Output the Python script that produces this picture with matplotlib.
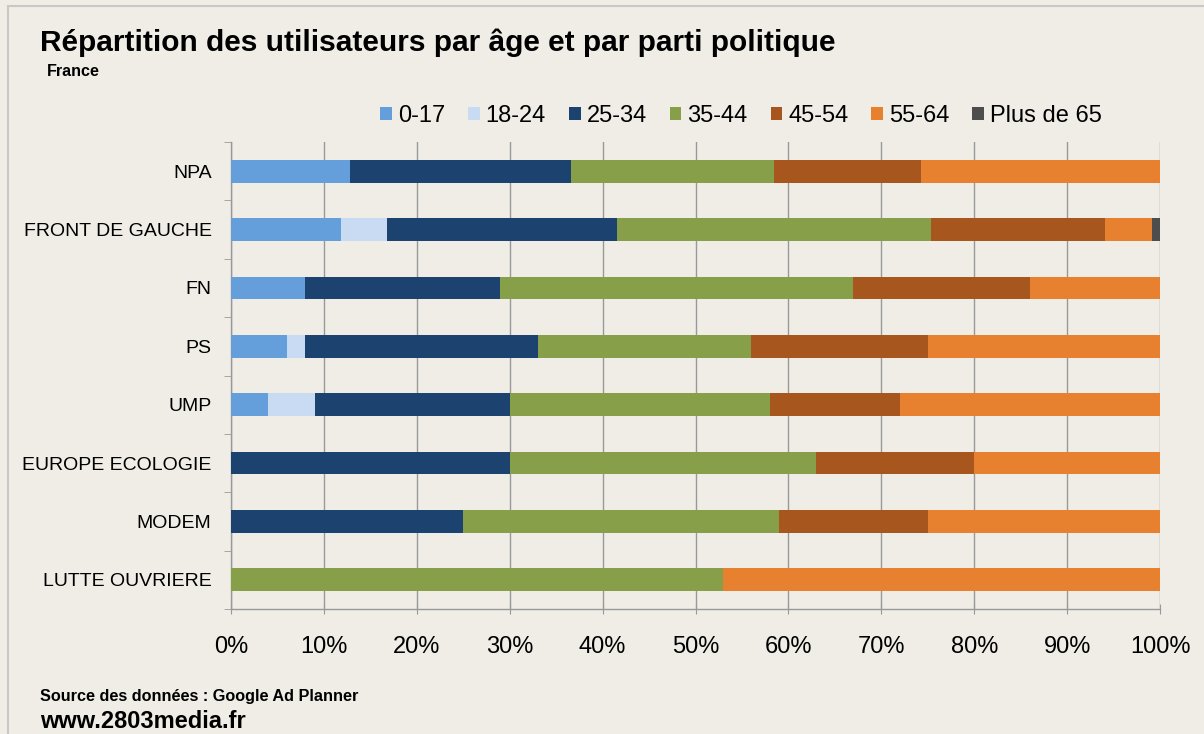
import numpy as np
import matplotlib

matplotlib.use('Agg')
import matplotlib.pyplot as plt
from matplotlib.patches import Rectangle

plt.rcParams['font.family'] = ['Liberation Sans', 'DejaVu Sans']

# Données (en %)
partis = ['NPA', 'FRONT DE GAUCHE', 'FN', 'PS', 'UMP',
          'EUROPE ECOLOGIE', 'MODEM', 'LUTTE OUVRIERE']
tranches = ['0-17', '18-24', '25-34', '35-44', '45-54', '55-64', 'Plus de 65']
couleurs = ['#659FDB', '#C9DBF2', '#1C4370', '#869F48', '#A7561E', '#E8812F', '#4D4D4D']

age_0_17 = [12.8, 11.8, 8, 6, 4, 0, 0, 0]
age_18_24 = [0, 5, 0, 2, 5, 0, 0, 0]
age_25_34 = [23.8, 24.7, 21, 25, 21, 30, 25, 0]
age_35_44 = [21.8, 33.8, 38, 23, 28, 33, 34, 53]
age_45_54 = [15.9, 18.8, 19, 19, 14, 17, 16, 0]
age_55_64 = [25.7, 5.0, 14, 25, 28, 20, 25, 47]
age_65_plus = [0, 0.9, 0, 0, 0, 0, 0, 0]

series = [age_0_17, age_18_24, age_25_34, age_35_44, age_45_54, age_55_64, age_65_plus]

fond = '#EFEDE6'
fig = plt.figure(figsize=(12.04, 7.34), dpi=100, facecolor=fond)
ax = fig.add_axes([231 / 1204, 1 - 609 / 734, 929 / 1204, 467 / 734])
ax.set_facecolor(fond)

# cadre autour du graphique
fig.patches.append(Rectangle((8 / 1204, -0.1), 1.2, 1 - 6 / 734 + 0.1,
                             transform=fig.transFigure, fill=False,
                             edgecolor='#C8C8C8', linewidth=1.5))

y = np.arange(len(partis))
gauche = np.zeros(len(partis))
for nom, vals, c in zip(tranches, series, couleurs):
    vals = np.array(vals, dtype=float)
    ax.barh(y, vals, left=gauche, height=0.39, color=c, label=nom,
            edgecolor='none', zorder=3)
    gauche += vals

ax.set_xlim(0, 100)
ax.set_ylim(len(partis) - 0.5, -0.5)
ax.set_xticks(np.arange(0, 101, 10))
ax.set_xticklabels([f'{v}%' for v in range(0, 101, 10)], fontsize=17)
ax.set_yticks(y)
ax.set_yticklabels(partis, fontsize=14)
ax.set_yticks(np.arange(-0.5, len(partis)), minor=True)
ax.tick_params(axis='y', which='major', length=0, pad=14)
ax.tick_params(axis='y', which='minor', length=5, color='#999999', direction='out')
ax.tick_params(axis='x', length=7, color='#999999', direction='inout', pad=16)
ax.grid(axis='x', color='#999999', linewidth=1, zorder=0)

for s in ['top', 'right']:
    ax.spines[s].set_visible(False)
for s in ['left', 'bottom']:
    ax.spines[s].set_color('#999999')
    ax.spines[s].set_linewidth(1)

fig.text(40 / 1204, 1 - 43 / 734, 'Répartition des utilisateurs par âge et par parti politique',
         fontsize=21.5, fontweight='bold', va='center', ha='left')
fig.text(47 / 1204, 1 - 71 / 734, 'France', fontsize=11.6, fontweight='bold',
         va='center', ha='left')

handles, labels = ax.get_legend_handles_labels()
fig.legend(handles, labels, ncol=7, loc='center', bbox_to_anchor=(741 / 1204, 1 - 116 / 734),
           frameon=False, fontsize=17, handlelength=0.5, handleheight=0.5,
           handletextpad=0.25, columnspacing=0.97)

fig.text(40 / 1204, 1 - 697 / 734, 'Source des données : Google Ad Planner',
         fontsize=11.7, fontweight='bold', va='center', ha='left')
fig.text(40 / 1204, 1 - 721 / 734, 'www.2803media.fr', fontsize=17,
         fontweight='bold', va='center', ha='left')

fig.savefig('out.png', dpi=100, facecolor=fond)
